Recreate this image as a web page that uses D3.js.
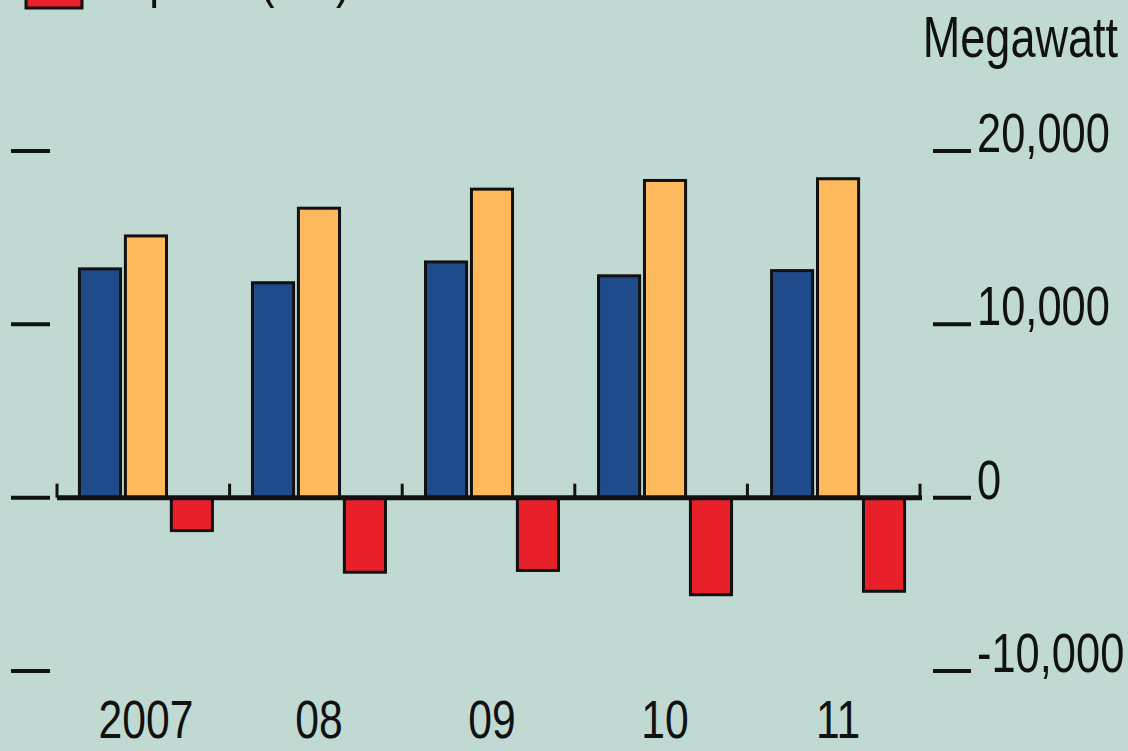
<!DOCTYPE html>
<html>
<head>
<meta charset="utf-8">
<script src="https://cdn.jsdelivr.net/npm/d3@7"></script>
<style>
  html, body { margin: 0; padding: 0; background: #c0dad3; }
  svg { display: block; }
  text { font-family: "Liberation Sans", "DejaVu Sans", sans-serif; fill: #111; }
</style>
</head>
<body>
<svg id="chart" width="1128" height="751"></svg>
<script>
// Electricity flows, megawatt
const years = ["2007", "08", "09", "10", "11"];
const seriesNames = ["Imports", "Exports", "Imports (net)"];
const imports = [13200, 12400, 13600, 12800, 13100];
const exportsMW = [15100, 16700, 17800, 18300, 18400];
const netImports = [-1900, -4300, -4200, -5600, -5400];
const yTicks = [-10000, 0, 10000, 20000];
const yTickLabels = ["-10,000", "0", "10,000", "20,000"];
const unitLabel = "Megawatt";

const colors = ["#1f4b8a", "#fdb95c", "#e8202a"];
const seriesValues = [imports, exportsMW, netImports];
const condense = 0.79; // horizontal squeeze for a condensed look

const svg = d3.select("#chart");

const x0 = 57, x1 = 920;
const x = d3.scaleBand().domain(years).range([x0, 927])
  .paddingInner(0.214).paddingOuter(0.121);
const xs = d3.scaleBand().domain(d3.range(seriesNames.length))
  .range([0, x.bandwidth()]).paddingInner(0.04);
const y = d3.scaleLinear().domain([-10000, 20000]).range([671, 151]);

function label(parent, px, py, str, size, anchor) {
  return parent.append("text")
    .attr("transform", `translate(${px},${py}) scale(${condense},1)`)
    .attr("text-anchor", anchor || "start")
    .attr("font-size", size)
    .text(str);
}

// legend (only the last entry falls inside the frame)
const lg = svg.append("g");
lg.append("rect").attr("x", 26).attr("y", -30).attr("width", 56).attr("height", 38)
  .attr("fill", colors[2]).attr("stroke", "#111").attr("stroke-width", 3);
label(lg, 100, -4, seriesNames[2], 56);

// bars
years.forEach((yr, i) => {
  const g = svg.append("g").attr("transform", `translate(${x(yr)},0)`);
  seriesValues.forEach((vals, s) => {
    const v = vals[i];
    g.append("rect")
      .attr("x", xs(s) + 1.5)
      .attr("y", Math.min(y(v), y(0)))
      .attr("width", xs.bandwidth() - 3)
      .attr("height", Math.abs(y(v) - y(0)))
      .attr("fill", colors[s])
      .attr("stroke", "#111")
      .attr("stroke-width", 3);
  });
});

// baseline with category separators
const axisG = svg.append("g");
axisG.append("line").attr("x1", x0).attr("x2", x1 + 2)
  .attr("y1", y(0)).attr("y2", y(0))
  .attr("stroke", "#111").attr("stroke-width", 5);
const sep = (x1 - x0) / years.length;
d3.range(years.length + 1).forEach(k => {
  const xx = x0 + k * sep;
  axisG.append("line").attr("x1", xx).attr("x2", xx)
    .attr("y1", y(0)).attr("y2", y(0) - 14)
    .attr("stroke", "#111").attr("stroke-width", 3);
});

// year labels
const xg = svg.append("g");
years.forEach(d => label(xg, x(d) + x.bandwidth() / 2, 738, d, 54, "middle"));

// value dashes on both sides, labels on the right
const yg = svg.append("g");
yTicks.forEach((t, i) => {
  yg.append("line").attr("x1", 11).attr("x2", 50)
    .attr("y1", y(t)).attr("y2", y(t))
    .attr("stroke", "#111").attr("stroke-width", 4);
  yg.append("line").attr("x1", 933).attr("x2", 971)
    .attr("y1", y(t)).attr("y2", y(t))
    .attr("stroke", "#111").attr("stroke-width", 4);
  label(yg, 977, y(t) + 1, yTickLabels[i], 55);
});

label(svg, 1118, 57, unitLabel, 57, "end");
</script>
</body>
</html>
